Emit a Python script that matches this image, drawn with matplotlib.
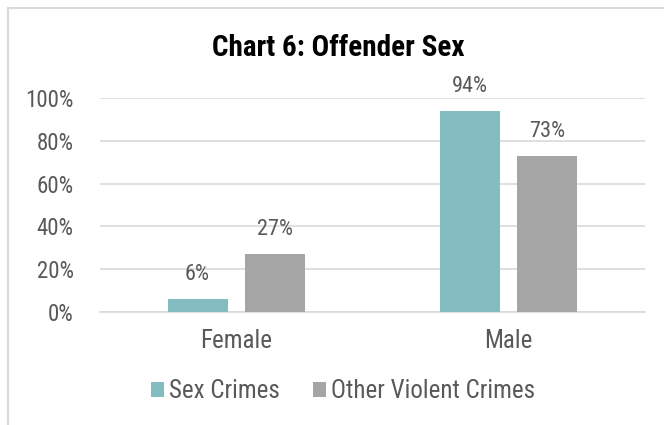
import matplotlib.pyplot as plt
from matplotlib.lines import Line2D
import numpy as np

categories = ['Female', 'Male']
sex_crimes = [0.06, 0.94]
other_violent = [0.27, 0.73]
series_names = ['Sex Crimes', 'Other Violent Crimes']

W, H = 664, 425
fig = plt.figure(figsize=(W / 100, H / 100), dpi=100)
fig.patch.set_facecolor('white')

# outer chart frame: only top and left edges show in the reference
frame_kw = dict(transform=fig.transFigure, color='#d9d9d9', linewidth=1.5)
fig.lines.append(Line2D([8 / W, 1], [1 - 8 / H, 1 - 8 / H], **frame_kw))
fig.lines.append(Line2D([8 / W, 8 / W], [0, 1 - 8 / H], **frame_kw))

ax = fig.add_axes([100 / W, 1 - 312 / H, 545 / W, (312 - 98) / H])
x = np.arange(len(categories))
off = 0.142
w = 0.22
b1 = ax.bar(x - off, sex_crimes, w, color='#84bdc1', label=series_names[0], zorder=3)
b2 = ax.bar(x + off, other_violent, w, color='#a5a5a5', label=series_names[1], zorder=3)

font = 'Roboto Condensed'
txt = '#595959'
for bars in (b1, b2):
    for r in bars:
        v = r.get_height()
        ax.text(r.get_x() + r.get_width() / 2, v + 0.065, f'{v:.0%}', ha='center', va='bottom',
                fontsize=16, color=txt, family=font)

ax.set_xlim(-0.5, 1.5)
ax.set_ylim(0, 1.0)
ticks = np.arange(0, 1.01, 0.2)
ax.set_yticks(ticks)
ax.set_yticklabels([f'{int(round(t * 100))}%' for t in ticks], family=font, fontsize=16.5, color=txt)
ax.set_xticks(x)
ax.set_xticklabels(categories, family=font, fontsize=18, color=txt)
ax.tick_params(axis='both', length=0)
ax.tick_params(axis='x', pad=12)
ax.tick_params(axis='y', pad=19)
ax.grid(axis='y', color='#d9d9d9', linewidth=1.2, zorder=0)
for s in ('top', 'right', 'left'):
    ax.spines[s].set_visible(False)
ax.spines['bottom'].set_color('#d9d9d9')
ax.spines['bottom'].set_linewidth(1.2)

fig.text(338 / W, 1 - 48 / H, 'Chart 6: Offender Sex', ha='center', va='center',
         fontsize=21, fontweight='bold', family=font, color='black')

fig.legend(loc='center', bbox_to_anchor=(343 / W, 1 - 391 / H), ncol=2, frameon=False,
           prop={'family': font, 'size': 18}, labelcolor=txt, handlelength=0.55, handleheight=0.55,
           handletextpad=0.2, columnspacing=1.3)

fig.savefig('out.png', dpi=100)
